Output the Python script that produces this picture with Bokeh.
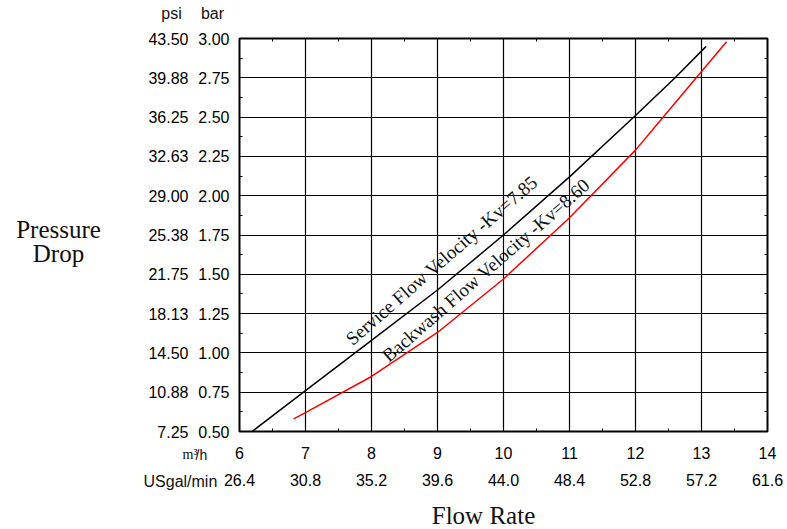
from bokeh.plotting import figure
from bokeh.models import LinearAxis, FixedTicker, Label, Range1d, Grid
from bokeh.embed import file_html
from bokeh.resources import INLINE

# ---- data ----
flow_ticks = [6, 7, 8, 9, 10, 11, 12, 13, 14]
usgal_labels = ["26.4", "30.8", "35.2", "39.6", "44.0", "48.4", "52.8", "57.2", "61.6"]
bar_ticks = [0.5, 0.75, 1.0, 1.25, 1.5, 1.75, 2.0, 2.25, 2.5, 2.75, 3.0]
bar_labels = ["0.50", "0.75", "1.00", "1.25", "1.50", "1.75", "2.00", "2.25", "2.50", "2.75", "3.00"]
psi_labels = ["7.25", "10.88", "14.50", "18.13", "21.75", "25.38", "29.00", "32.63", "36.25", "39.88", "43.50"]

flow_service = [6.19, 7.0, 8.0, 9.0, 10.0, 11.0, 12.0, 12.6, 13.07]
dp_service = [0.50, 0.76, 1.08, 1.40, 1.75, 2.12, 2.51, 2.75, 2.95]

flow_backwash = [6.82, 7.0, 8.0, 9.0, 10.0, 11.0, 12.0, 12.44, 12.94, 13.38]
dp_backwash = [0.58, 0.62, 0.85, 1.13, 1.47, 1.86, 2.29, 2.51, 2.76, 2.98]

SANS = "Liberation Sans"
SERIF = "Liberation Serif"

W, H = 787, 529
p = figure(width=W, height=H, output_backend="svg", toolbar_location=None,
           x_range=Range1d(6, 14), y_range=Range1d(0.5, 3.0),
           min_border_left=239, min_border_right=20, min_border_top=38, min_border_bottom=98,
           x_axis_type=None, y_axis_type=None)
p.outline_line_color = "black"
p.outline_line_width = 2
p.background_fill_color = "white"
p.border_fill_color = "white"

minor_x = [x + 0.5 for x in flow_ticks[:-1]]
minor_y = [y + 0.125 for y in bar_ticks[:-1]]


def style_axis(ax):
    ax.axis_line_color = None
    ax.major_tick_in = 0
    ax.major_tick_out = 0
    ax.minor_tick_in = 3
    ax.minor_tick_out = 0
    ax.minor_tick_line_color = "black"
    ax.minor_tick_line_width = 1
    ax.major_label_text_font = SANS
    ax.major_label_text_font_size = "16px"
    ax.major_label_text_color = "black"


# bottom axes
xa = LinearAxis(ticker=FixedTicker(ticks=flow_ticks, minor_ticks=minor_x))
style_axis(xa)
xa.major_label_standoff = 15
p.add_layout(xa, "below")

xa2 = LinearAxis(ticker=FixedTicker(ticks=flow_ticks),
                 major_label_overrides={t: l for t, l in zip(flow_ticks, usgal_labels)})
style_axis(xa2)
xa2.minor_tick_in = 0
xa2.major_label_standoff = 12
p.add_layout(xa2, "below")

# left axes
ya = LinearAxis(ticker=FixedTicker(ticks=bar_ticks, minor_ticks=minor_y),
                major_label_overrides={t: l for t, l in zip(bar_ticks, bar_labels)})
style_axis(ya)
ya.major_label_standoff = 10
p.add_layout(ya, "left")

ya2 = LinearAxis(ticker=FixedTicker(ticks=bar_ticks),
                 major_label_overrides={t: l for t, l in zip(bar_ticks, psi_labels)})
style_axis(ya2)
ya2.minor_tick_in = 0
ya2.major_label_standoff = 7
p.add_layout(ya2, "left")

# top and right axes: minor ticks only
xt = LinearAxis(ticker=FixedTicker(ticks=[], minor_ticks=minor_x))
style_axis(xt)
xt.major_label_standoff = 0
p.add_layout(xt, "above")

yr = LinearAxis(ticker=FixedTicker(ticks=[], minor_ticks=minor_y))
style_axis(yr)
yr.major_label_standoff = 0
p.add_layout(yr, "right")

# grid
p.add_layout(Grid(dimension=0, ticker=FixedTicker(ticks=flow_ticks),
                  grid_line_color="black", grid_line_width=1.2))
p.add_layout(Grid(dimension=1, ticker=FixedTicker(ticks=bar_ticks),
                  grid_line_color="black", grid_line_width=1.2))

# curves
p.line(flow_service, dp_service, line_color="black", line_width=1.5)
p.line(flow_backwash, dp_backwash, line_color="#ff0000", line_width=1.5)

# in-plot labels
p.add_layout(Label(x=7.65, y=1.074, text="Service Flow Velocity -Kv=7.85",
                   angle=41, angle_units="deg", text_font=SERIF, text_font_size="19px",
                   text_baseline="alphabetic", text_align="left", text_color="#111111"))
p.add_layout(Label(x=8.20, y=0.967, text="Backwash Flow Velocity -Kv=8.60",
                   angle=41, angle_units="deg", text_font=SERIF, text_font_size="19px",
                   text_baseline="alphabetic", text_align="left", text_color="#111111"))


# outer texts (canvas pixel positions). They live in side panels (so they are not
# clipped to the frame); each is put in a panel with enough spare room.
def add_text(side, px, py, text, font, size, align="center", baseline="alphabetic", lh=1.2):
    p.add_layout(Label(x=px, y=py, x_units="canvas", y_units="canvas", text=text,
                       text_font=font, text_font_size=size, text_align=align,
                       text_baseline=baseline, text_line_height=lh,
                       text_color="#111111"), side)


add_text("above", 171, 13, "psi", SANS, "16px")
add_text("above", 143, 481, "USgal/min", SANS, "16px", "left")
add_text("left", 212, 13, "bar", SANS, "16px")
add_text("left", 58, 215, "Pressure\nDrop", SERIF, "25px", baseline="top", lh=0.9)
add_text("left", 182, 454, "m\u00b3", SERIF, "14px", "left")
add_text("right", 195, 454, "/h", SANS, "14px", "left")
add_text("below", 483, 515, "Flow Rate", SERIF, "25px")

open("out.html", "w").write(file_html(p, INLINE))
